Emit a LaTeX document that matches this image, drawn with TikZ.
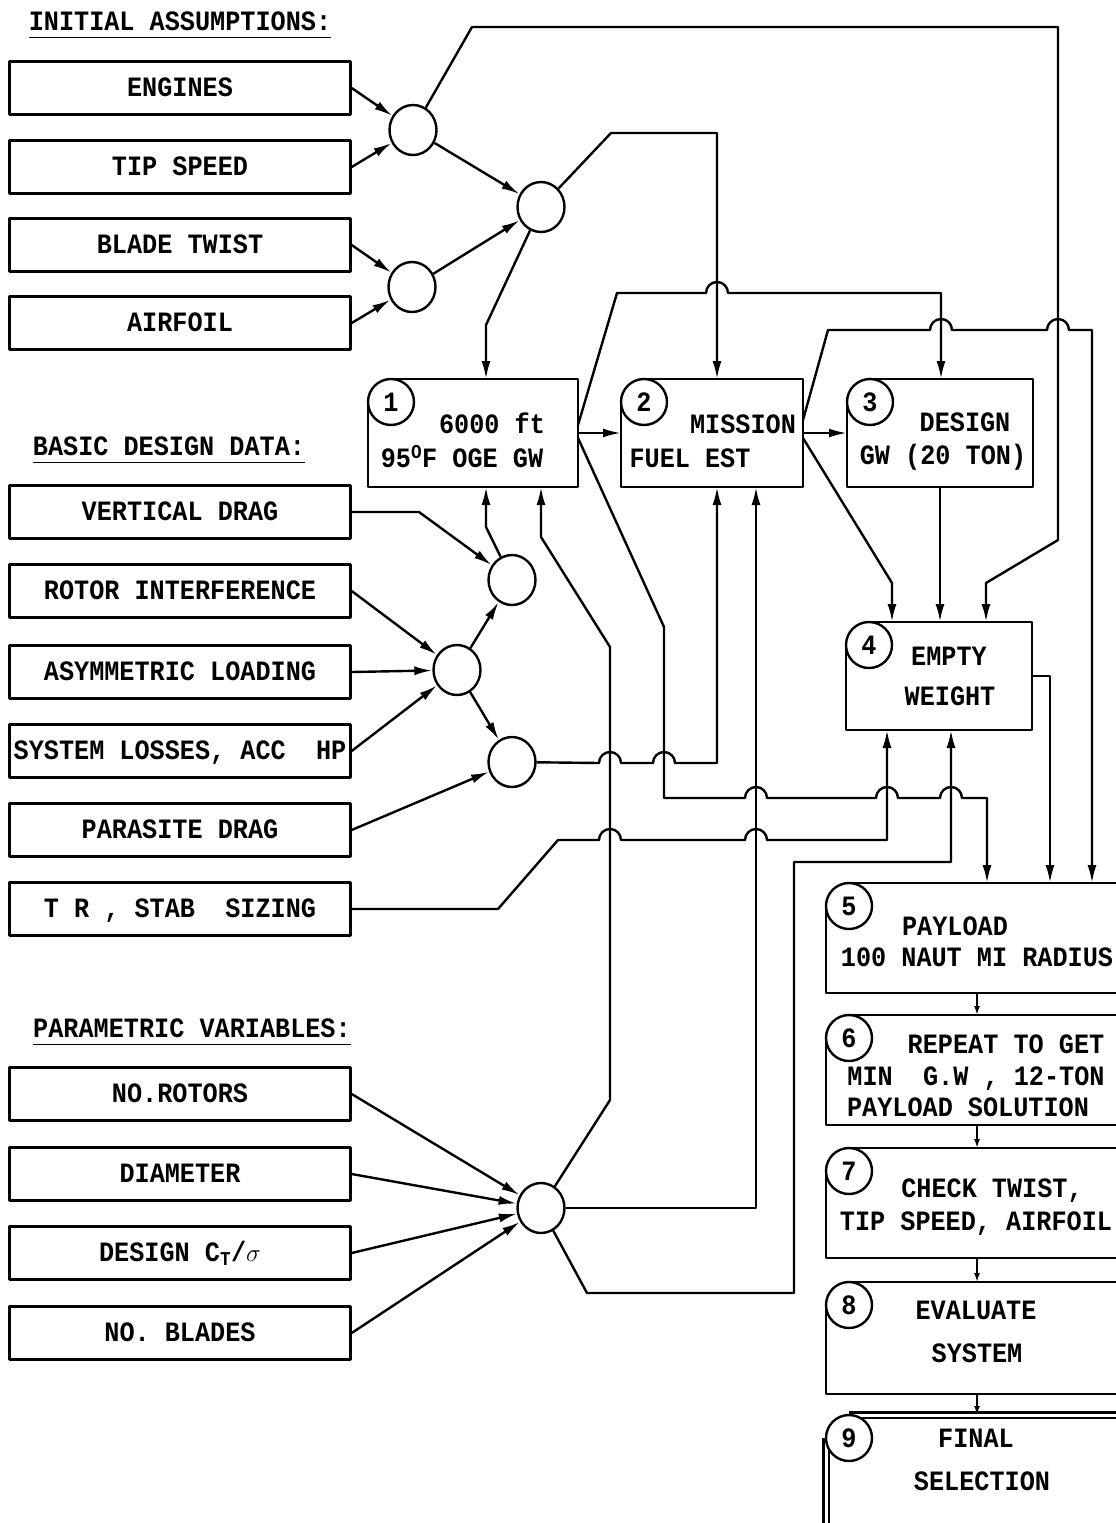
\documentclass[tikz,border=0pt]{standalone}
\usepackage{fontspec}
\newfontfamily\tw[FakeStretch=0.9]{Liberation Mono}
\usetikzlibrary{arrows.meta,shapes.geometric}
\newcommand{\diagfont}{\tw\bfseries\fontsize{28pt}{32pt}\selectfont}
% line hop over a crossing vertical at x=#1 on a horizontal at y=#2
\newcommand{\hopat}[2]{-- (#1-11,#2) arc[start angle=180,end angle=0,radius=11pt]}
% box outline, open at the corner taken by the step number
\newcommand{\boxline}[2][]{\draw[line,#1] ([xshift=23pt]#2.north west) -- (#2.north east) -- (#2.south east) -- (#2.south west) -- ([yshift=-23pt]#2.north west);}
\begin{document}
\begin{tikzpicture}[x=1pt,y=-1pt,line join=round,
  line/.style={line width=2.4pt},
  arr/.style={line,-{Latex[length=18pt,width=9pt]}},
  sarr/.style={line,-{Latex[length=9pt,width=6pt]}},
  txt/.style={inner sep=0pt,font=\diagfont,text height=17pt,text depth=0pt},
  uline/.style={line width=1.8pt},
  inbox/.style={txt,draw,line width=2.4pt,minimum width=341pt,minimum height=53pt},
  mbox/.style={inner sep=0pt,outer sep=0pt},
  junc/.style={ellipse,draw,line width=2.4pt,minimum width=47pt,minimum height=50pt,inner sep=0pt},
  num/.style={circle,draw,fill=white,line width=2.4pt,minimum size=46pt,inner sep=0pt,outer sep=0pt,font=\diagfont}]
\useasboundingbox (0,0) rectangle (1116,1523);

% input boxes
\node[txt] (hinit) at (180,22) {INITIAL ASSUMPTIONS:};
\draw[uline] ([yshift=-7pt]hinit.base west) -- ([yshift=-7pt]hinit.base east);
\node[inbox] (eng) at (180,88) {ENGINES};
\node[inbox] (tip) at (180,167) {TIP SPEED};
\node[inbox] (twist) at (180,245) {BLADE TWIST};
\node[inbox] (airf) at (180,323) {AIRFOIL};

\node[txt] (hbasic) at (169,447) {BASIC DESIGN DATA:};
\draw[uline] ([yshift=-7pt]hbasic.base west) -- ([yshift=-7pt]hbasic.base east);
\node[inbox] (vdrag) at (180,512) {VERTICAL DRAG};
\node[inbox] (rotint) at (180,591) {ROTOR INTERFERENCE};
\node[inbox] (asym) at (180,672) {ASYMMETRIC LOADING};
\node[inbox] (sysl) at (180,751) {SYSTEM LOSSES, ACC\ \ HP};
\node[inbox] (pdrag) at (180,830) {PARASITE DRAG};
\node[inbox] (trstab) at (180,909) {T R , STAB\ \ SIZING};

\node[txt] (hparam) at (192,1029) {PARAMETRIC VARIABLES:};
\draw[uline] ([yshift=-7pt]hparam.base west) -- ([yshift=-7pt]hparam.base east);
\node[inbox] (norot) at (180,1094) {NO.ROTORS};
\node[inbox] (diam) at (180,1174) {DIAMETER};
\node[inbox] (ctsig) at (180,1253) {DESIGN C\textsubscript{T}/$\sigma$};
\node[inbox] (nobl) at (180,1333) {NO. BLADES};

% junctions
\node[junc] (cA) at (413,130) {};
\node[junc] (cB) at (541,207) {};
\node[junc] (cC) at (412,287) {};
\node[junc] (cD) at (512,580) {};
\node[junc] (cE) at (457,670) {};
\node[junc] (cF) at (512,762) {};
\node[junc] (cG) at (541,1208) {};

% numbered steps
\node[mbox,minimum width=210pt,minimum height=108pt] (b1) at (473,433) {};
\boxline{b1}
\node[num] (n1) at ([xshift=23pt,yshift=-23pt]b1.north west) {1};
\node[txt] (t1a) at (492,425) {6000 ft};
\node[txt] (t1b) at (462,459) {95\textsuperscript{O}F OGE GW};

\node[mbox,minimum width=182pt,minimum height=108pt] (b2) at (712,433) {};
\boxline{b2}
\node[num] (n2) at ([xshift=23pt,yshift=-23pt]b2.north west) {2};
\node[txt] (t2a) at (743,425) {MISSION};
\node[txt] (t2b) at (690,459) {FUEL EST};

\node[mbox,minimum width=186pt,minimum height=108pt] (b3) at (940,433) {};
\boxline{b3}
\node[num] (n3) at ([xshift=23pt,yshift=-23pt]b3.north west) {3};
\node[txt] (t3a) at (965,423) {DESIGN};
\node[txt] (t3b) at (943,456) {GW (20 TON)};

\node[mbox,minimum width=186pt,minimum height=108pt] (b4) at (939,676) {};
\boxline{b4}
\node[num] (n4) at ([xshift=23pt,yshift=-23pt]b4.north west) {4};
\node[txt] (t4a) at (949,657) {EMPTY};
\node[txt] (t4b) at (950,697) {WEIGHT};

\node[mbox,minimum width=304pt,minimum height=110pt] (b5) at (978,938) {};
\boxline{b5}
\node[num] (n5) at ([xshift=23pt,yshift=-23pt]b5.north west) {5};
\node[txt] (t5a) at (955,927) {PAYLOAD};
\node[txt] (t5b) at (977,958) {100 NAUT MI RADIUS};

\node[mbox,minimum width=304pt,minimum height=110pt] (b6) at (978,1070) {};
\boxline{b6}
\node[num] (n6) at ([xshift=23pt,yshift=-23pt]b6.north west) {6};
\node[txt] (t6a) at (1006,1045) {REPEAT TO GET};
\node[txt] (t6b) at (976,1077) {MIN\ \ G.W , 12-TON};
\node[txt] (t6c) at (968,1108) {PAYLOAD SOLUTION};

\node[mbox,minimum width=304pt,minimum height=110pt] (b7) at (978,1203) {};
\boxline{b7}
\node[num] (n7) at ([xshift=23pt,yshift=-23pt]b7.north west) {7};
\node[txt] (t7a) at (992,1189) {CHECK TWIST,};
\node[txt] (t7b) at (976,1222) {TIP SPEED, AIRFOIL};

\node[mbox,minimum width=304pt,minimum height=112pt] (b8) at (978,1338) {};
\boxline{b8}
\node[num] (n8) at ([xshift=23pt,yshift=-23pt]b8.north west) {8};
\node[txt] (t8a) at (976,1311) {EVALUATE};
\node[txt] (t8b) at (977,1354) {SYSTEM};

\node[mbox,minimum width=304pt,minimum height=124pt] (b9) at (978,1477) {};
\boxline[double,double distance=3pt]{b9}
\node[num] (n9) at ([xshift=23pt,yshift=-23pt]b9.north west) {9};
\node[txt] (t9a) at (976,1439) {FINAL};
\node[txt] (t9b) at (982,1482) {SELECTION};

% initial assumptions
\draw[arr] (eng.east) -- (cA);
\draw[arr] (tip.east) -- (cA);
\draw[arr] (twist.east) -- (cC);
\draw[arr] (airf.east) -- (cC);
\draw[arr] (cA) -- (cB);
\draw[arr] (cC) -- (cB);
\draw[arr] (cB) -- (486,325) -- (486,0 |- b1.north);
\draw[arr] (cA) -- (472,27) -- (1058,27) -- (1058,540) -- (986,583) -- (986,0 |- b4.north);
\draw[arr] (cB) -- (611,133) -- (717,133) -- (717,0 |- b2.north);

% step to step
\draw[arr] (b1.east) -- (b2.west);
\draw[arr] (b2.east) -- (b3.west);
\draw[arr] ([yshift=8pt]b1.east) -- (617,293) \hopat{717}{293} -- (941,293) -- (941,0 |- b3.north);
\draw[arr] ([yshift=-5pt]b1.east) -- (664,627) -- (664,798) \hopat{756}{798} \hopat{887}{798} \hopat{951}{798} -- (987,798) -- (987,0 |- b5.north);
\draw[arr] ([yshift=13pt]b2.east) -- (828,330) \hopat{941}{330} \hopat{1058}{330} -- (1092,330) -- (1092,0 |- b5.north);
\draw[arr] ([yshift=-5pt]b2.east) -- (892,583) -- (892,0 |- b4.north);
\draw[arr] (b3.south) -- (b3.south |- b4.north);
\draw[arr] (b4.east) -- (1050,0 |- b4.east) -- (1050,0 |- b5.north);

% basic design data
\draw[arr] (vdrag.east) -- (419,512) -- (cD);
\draw[arr] (rotint.east) -- (cE);
\draw[arr] (asym.east) -- (cE);
\draw[arr] (sysl.east) -- (cE);
\draw[arr] (cE) -- (cD);
\draw[arr] (cE) -- (cF);
\draw[arr] (pdrag.east) -- (cF);
\draw[arr] (cD) -- (486,527) -- (486,0 |- b1.south);
\draw[arr] (cF) \hopat{610}{763} \hopat{664}{763} -- (717,763) -- (717,0 |- b2.south);
\draw[arr] (trstab.east) -- (498,909) -- (558,840) \hopat{610}{840} \hopat{756}{840} -- (887,840) -- (887,0 |- b4.south);

% parametric variables
\draw[arr] (norot.east) -- (cG);
\draw[arr] (diam.east) -- (cG);
\draw[arr] (ctsig.east) -- (cG);
\draw[arr] (nobl.east) -- (cG);
\draw[arr] (cG) -- (610,1100) -- (610,647) -- (541,537) -- (541,0 |- b1.south);
\draw[arr] (cG.east) -- (756,0 |- cG.east) -- (756,0 |- b2.south);
\draw[arr] (cG) -- (587,1293) -- (794,1293) -- (794,862) -- (951,862) -- (951,0 |- b4.south);

% final chain
\draw[sarr] (977,0 |- b5.south) -- (977,0 |- b6.north);
\draw[sarr] (977,0 |- b6.south) -- (977,0 |- b7.north);
\draw[sarr] (977,0 |- b7.south) -- (977,0 |- b8.north);
\draw[sarr] (977,0 |- b8.south) -- (977,0 |- b9.north);
\end{tikzpicture}
\end{document}
